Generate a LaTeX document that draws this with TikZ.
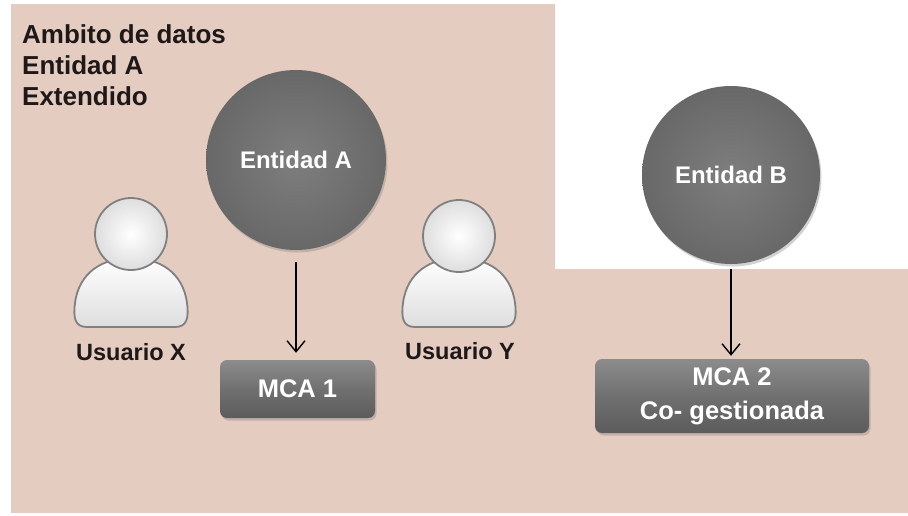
\documentclass[tikz,border=0pt]{standalone}
\usepackage{fontspec}
\setmainfont{Liberation Sans}
\usetikzlibrary{arrows.meta,shadows}
\definecolor{pinkbg}{RGB}{229,204,192}
\definecolor{txtdark}{RGB}{30,24,24}
\definecolor{usrline}{RGB}{128,128,128}
\tikzset{
  circ/.style={circle, minimum size=180pt, inner sep=0pt, draw=none,
    shading=radial, inner color={rgb,255:red,126;green,126;blue,126},
    outer color={rgb,255:red,104;green,104;blue,104},
    drop shadow={opacity=0.35, shadow xshift=1.5pt, shadow yshift=-2.5pt},
    text=white, font=\fontsize{24}{26}\selectfont\bfseries},
  mcabox/.style={rectangle, rounded corners=7pt, inner sep=0pt, draw=none,
    top color={rgb,255:red,140;green,140;blue,140},
    bottom color={rgb,255:red,92;green,92;blue,92},
    middle color={rgb,255:red,112;green,112;blue,112},
    drop shadow={opacity=0.35, shadow xshift=1.5pt, shadow yshift=-2.5pt},
    text=white, align=center, font=\fontsize{25.5}{34}\selectfont\bfseries},
  lbl/.style={text=txtdark, font=\fontsize{23.5}{30}\selectfont\bfseries, inner sep=0pt},
  hdrst/.style={text=txtdark, font=\fontsize{26}{31}\selectfont\bfseries, inner sep=0pt},
  head/.style={circle, minimum size=72pt, inner sep=0pt, draw=usrline, line width=1.8pt,
    shading=radial, inner color=white, outer color={rgb,255:red,222;green,222;blue,222}},
  bodyst/.style={draw=usrline, line width=1.8pt,
    top color=white, bottom color={rgb,255:red,222;green,222;blue,222}},
  arr/.style={-{Straight Barb[length=11pt,width=18pt,line width=1.4pt]}, line width=1.4pt, black}
}
\newcommand{\userbody}[1]{%
  \draw[bodyst] (#1-44,327) -- (#1+44,327)
    .. controls (#1+56,327) and (#1+58,318) .. (#1+56,303)
    .. controls (#1+52,272) and (#1+28,258) .. (#1,258)
    .. controls (#1-28,258) and (#1-52,272) .. (#1-56,303)
    .. controls (#1-58,318) and (#1-56,327) .. (#1-44,327) -- cycle;}
\begin{document}
\begin{tikzpicture}[x=1pt,y=-1pt]
\useasboundingbox (0,0) rectangle (908,515);
\fill[white] (0,0) rectangle (908,515);
\fill[pinkbg] (11,4) -- (555,4) -- (555,269) -- (908,269) -- (908,513) -- (11,513) -- cycle;

\node[hdrst, anchor=north west, align=left] (hdr) at (22,24) {Ambito de datos\\Entidad A\\Extendido};

\node[circ] (ea) at (296,160) {Entidad A};
\node[circ, minimum size=178pt] (eb) at (731,175) {Entidad B};

\node[mcabox, minimum width=155pt, minimum height=58pt] (m1) at (297.5,389) {MCA 1};
\node[mcabox, minimum width=274pt, minimum height=74pt] (m2) at (732,396) {MCA 2\\Co- gestionada};

\draw[arr, shorten <=12pt, shorten >=7pt] (ea.south) -- (ea.south |- m1.north);
\draw[arr, shorten <=5pt, shorten >=3pt] (eb.south) -- (eb.south |- m2.north);

\userbody{131}
\node[head] (hx) at (131,234) {};
\node[lbl] (ux) at (131,352) {Usuario X};

\userbody{459}
\node[head] (hy) at (459,236) {};
\node[lbl] (uy) at (460,351) {Usuario Y};
\end{tikzpicture}
\end{document}
